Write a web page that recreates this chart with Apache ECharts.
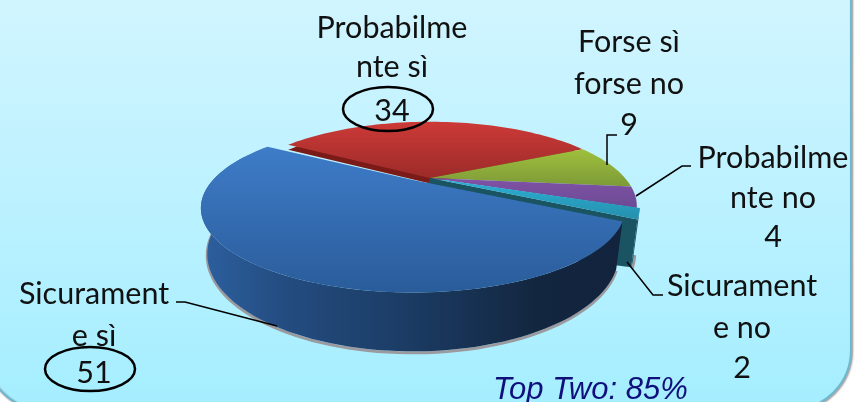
<!DOCTYPE html>
<html><head><meta charset="utf-8">
<style>html,body{margin:0;padding:0;background:#fff}#c{width:856px;height:402px}</style>
<script src="https://cdn.jsdelivr.net/npm/echarts@6/dist/echarts.min.js"></script>
</head><body><div id="c"></div>
<script>
// Data (clockwise from the back-left of the pie)
const categories = ['Probabilmente sì', 'Forse sì forse no', 'Probabilmente no', 'Sicuramente no', 'Sicuramente sì'];
const values = [34, 9, 4, 2, 51];
const labelLines = [['Probabilme', 'nte sì'], ['Forse sì', 'forse no'], ['Probabilme', 'nte no'], ['Sicurament', 'e no'], ['Sicurament', 'e sì']];
const noteText = 'Top Two: 85%';

// Layout and style
const startAngle = -148.6;
const K = 1 / 3;
const labelPos = [
  [392, 28, 67, 111], [629, 42, 84, 125], [773, 158, 198, 237], [742, 286, 328, 368], [94, 294, 336, 373]
];
const sliceStyle = [
  { cx: 430, cy: 178, R: 195, S: 75, top: '#cc3a37', bottom: '#9c2b29', edge: '#7a1b18' },
  { cx: 430, cy: 178, R: 195, S: 75, top: '#9fc03c', bottom: '#7d9a38' },
  { cx: 430, cy: 178, R: 195, S: 75, top: '#8052a6', bottom: '#6b4a94' },
  { cx: 430, cy: 178, R: 198, S: 75, top: '#2db0d4', bottom: '#2590ae', wall: '#1a5362' },
  { cx: 413, cy: 180, R: 200, S: 75, top: '#3e7cc8', bottom: '#2a5c9a', wall: true }
];
const DEPTH = 41.5, BOTTOM_SCALE = 0.97;
const total = values.reduce((a, b) => a + b, 0);

function proj(s, deg, plane) {
  const t = deg * Math.PI / 180, u = Math.cos(t), v = Math.sin(t), w = 1 - K * v;
  const f = plane ? BOTTOM_SCALE : 1;
  return [s.cx + f * s.R * u / w, s.cy + f * s.S * v / w + (plane ? DEPTH / w : 0)];
}
function arc(s, a, b, plane) {
  const pts = [], n = Math.max(2, Math.ceil(Math.abs(b - a) / 2));
  for (let i = 0; i <= n; i++) pts.push(proj(s, a + (b - a) * i / n, plane));
  return pts;
}
const vgrad = (a, b) => new echarts.graphic.LinearGradient(0, 0, 0, 1, [{ offset: 0, color: a }, { offset: 1, color: b }]);
const wallGrad = new echarts.graphic.LinearGradient(0, 0, 1, 0, [
  { offset: 0, color: '#2d609f' }, { offset: 0.2, color: '#234c80' }, { offset: 0.5, color: '#1b3b63' },
  { offset: 0.8, color: '#13263f' }, { offset: 1, color: '#12233d' }]);

function renderSlice(params, api) {
  const i = params.dataIndex, s = sliceStyle[i];
  let a0 = startAngle;
  for (let j = 0; j < i; j++) a0 += values[j] / total * 360;
  const a1 = a0 + api.value(0) / total * 360;
  const apex = [s.cx, s.cy];
  const top = arc(s, a0, a1, 0);
  const kids = [];
  if (s.wall === true) {
    const frontA = a0, frontB = Math.min(a1, 200);
    kids.push({ type: 'polyline', shape: { points: arc(s, frontA, frontB, 1).map(p => [p[0], p[1] + 1.5]) },
      style: { stroke: '#9b9b9f', lineWidth: 3, fill: null } });
    kids.push({ type: 'polygon', shape: { points: arc(s, frontA, frontB, 0).concat(arc(s, frontB, frontA, 1)) },
      style: { fill: wallGrad } });
  } else if (s.wall) {
    const low = arc(s, a1, a0, 1);
    const lowApex = [s.cx - 16, s.cy + DEPTH + 20];
    kids.push({ type: 'polyline', shape: { points: low.map(p => [p[0] + 1, p[1] + 1]) },
      style: { stroke: '#9b9b9f', lineWidth: 3, fill: null } });
    kids.push({ type: 'polygon', shape: { points: arc(s, a0, a1, 0).concat(low) }, style: { fill: s.wall } });
    kids.push({ type: 'polygon', shape: { points: [apex, proj(s, a1, 0), proj(s, a1, 1), lowApex] }, style: { fill: s.wall } });
  }
  if (s.edge) {
    kids.push({ type: 'polygon', shape: { points: [[apex[0] - 2, apex[1] + 5]].concat(top.map(p => [p[0], p[1] + 5])) }, style: { fill: s.edge } });
  }
  kids.push({ type: 'polygon', shape: { points: [apex].concat(top) }, style: { fill: vgrad(s.top, s.bottom) } });
  return { type: 'group', children: kids };
}

const FONT = 'Lato, Carlito, sans-serif';
const gfx = [];
gfx.push({ type: 'rect', z: -10, shape: { x: -15, y: -80, width: 866, height: 490, r: 60 },
  style: { fill: new echarts.graphic.LinearGradient(0, 0, 0, 1, [
    { offset: 0, color: '#d8f6ff' }, { offset: 0.5, color: '#c0f2ff' }, { offset: 1, color: '#a4eeff' }]),
    stroke: '#6fb9d0', lineWidth: 2, shadowBlur: 2, shadowColor: '#999', shadowOffsetX: 1, shadowOffsetY: 1 } });
function txt(str, x, y) {
  gfx.push({ type: 'text', z: 20, style: { text: str, x, y, font: '30.5px ' + FONT, fill: '#111', align: 'center', verticalAlign: 'middle' } });
}
categories.forEach((c, i) => {
  const p = labelPos[i];
  txt(labelLines[i][0], p[0], p[1]);
  txt(labelLines[i][1], p[0], p[2]);
  txt(String(values[i]), p[0], p[3]);
});
gfx.push({ type: 'text', z: 20, style: { text: noteText, x: 493, y: 390, font: 'italic 31px "Liberation Sans"', fill: '#10107c', verticalAlign: 'middle' } });
[[388, 109, 45, 22], [90, 369, 45, 22]].forEach(e => gfx.push({ type: 'ellipse', z: 21,
  shape: { cx: e[0], cy: e[1], rx: e[2], ry: e[3] }, style: { fill: null, stroke: '#000', lineWidth: 2.5 } }));
[
  [[617, 135], [607, 135], [607, 165]],
  [[176, 302], [185, 302], [277, 326]],
  [[636, 196], [682, 166], [691, 166]],
  [[627, 262], [653, 295], [663, 295]]
].forEach(pts => gfx.push({ type: 'polyline', z: 19, shape: { points: pts }, style: { stroke: '#000', lineWidth: 1.5, fill: null } }));

const chart = echarts.init(document.getElementById('c'), null, { renderer: 'canvas' });
chart.setOption({
  animation: false,
  backgroundColor: '#fff',
  graphic: { elements: gfx },
  series: [{
    type: 'custom', coordinateSystem: 'none', silent: true, z: 5,
    data: categories.map((c, i) => ({ name: c, value: [values[i]] })),
    renderItem: renderSlice
  }]
});
</script></body></html>
